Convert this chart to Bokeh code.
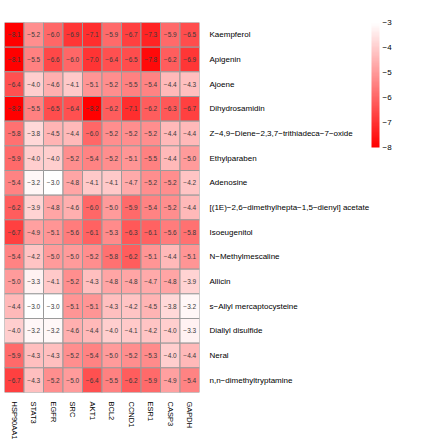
import math
from bokeh.plotting import figure
from bokeh.models import ColumnDataSource, LinearColorMapper, ColorBar, FixedTicker, CustomJSTickFormatter
from bokeh.core.properties import value
from bokeh.embed import file_html
from bokeh.resources import INLINE

targets = ["HSP90AA1", "STAT3", "EGFR", "SRC", "AKT1", "BCL2", "CCND1", "ESR1", "CASP3", "GAPDH"]
compounds = [
    "Kaempferol", "Apigenin", "Ajoene", "Dihydrosamidin",
    "Z\u22124,9\u2212Diene\u22122,3,7\u2212trithiadeca\u22127\u2212oxide",
    "Ethylparaben", "Adenosine",
    "[(1E)\u22122,6\u2212dimethylhepta\u22121,5\u2212dienyl] acetate",
    "Isoeugenitol", "N\u2212Methylmescaline", "Allicin",
    "s\u2212Allyl mercaptocysteine", "Diallyl disulfide", "Neral",
    "n,n\u2212dimethyltryptamine",
]
kaempferol = [-8.1, -5.2, -6.0, -6.9, -7.1, -5.9, -6.7, -7.3, -5.9, -6.5]
apigenin = [-8.1, -5.5, -6.6, -6.0, -7.0, -6.4, -6.5, -7.8, -6.2, -6.9]
ajoene = [-6.4, -4.0, -4.6, -4.1, -5.1, -5.2, -5.5, -5.4, -4.4, -4.3]
dihydrosamidin = [-8.2, -5.5, -6.5, -6.4, -8.2, -6.2, -7.1, -6.2, -6.3, -6.7]
diene_oxide = [-5.8, -3.8, -4.5, -4.4, -6.0, -5.2, -5.2, -5.2, -4.4, -4.4]
ethylparaben = [-5.9, -4.0, -4.0, -5.2, -5.4, -5.2, -5.1, -5.5, -4.4, -5.0]
adenosine = [-5.4, -3.2, -3.0, -4.8, -4.1, -4.1, -4.7, -5.2, -5.2, -4.2]
dienyl_acetate = [-6.2, -3.9, -4.8, -4.6, -6.0, -5.0, -5.9, -5.4, -5.2, -4.4]
isoeugenitol = [-6.7, -4.9, -5.1, -5.6, -6.1, -5.3, -6.3, -6.1, -5.6, -5.8]
methylmescaline = [-5.4, -4.2, -5.0, -5.0, -5.2, -5.8, -6.2, -5.1, -4.4, -5.1]
allicin = [-5.0, -3.3, -4.1, -5.2, -4.3, -4.8, -4.8, -4.7, -4.8, -3.9]
allyl_mercaptocysteine = [-4.4, -3.0, -3.0, -5.1, -5.1, -4.3, -4.2, -4.5, -3.8, -3.2]
diallyl_disulfide = [-4.0, -3.2, -3.2, -4.6, -4.4, -4.0, -4.1, -4.2, -4.0, -3.3]
neral = [-5.9, -4.3, -4.3, -5.2, -5.4, -5.0, -5.2, -5.3, -4.0, -4.4]
dmt = [-6.7, -4.3, -5.2, -5.0, -6.4, -5.5, -6.2, -5.9, -4.9, -5.4]
scale_ticks = [-8, -7, -6, -5, -4, -3]

rows = [kaempferol, apigenin, ajoene, dihydrosamidin, diene_oxide, ethylparaben,
        adenosine, dienyl_acetate, isoeugenitol, methylmescaline, allicin,
        allyl_mercaptocysteine, diallyl_disulfide, neral, dmt]

xs, ys, vals, labels = [], [], [], []
for name, r in zip(compounds, rows):
    for t, v in zip(targets, r):
        xs.append(t)
        ys.append(name)
        vals.append(v)
        labels.append(f"{v:.1f}".replace("-", "\u2212"))
src = ColumnDataSource(dict(x=xs, y=ys, val=vals, label=labels))

# white -> red palette, ordered low (red) to high (white)
n = 100
palette = []
for i in range(n):
    f = i / (n - 1)
    g = int(round(255 * f))
    palette.append("#%02x%02x%02x" % (255, g, g))
mapper = LinearColorMapper(palette=palette, low=-8, high=-3)

FONT = "Liberation Sans"
p = figure(x_range=targets, y_range=list(reversed(compounds)),
           frame_width=195, frame_height=370,
           output_backend="svg", toolbar_location=None,
           x_axis_location="below", y_axis_location="right",
           min_border_left=4, min_border_top=22, min_border_bottom=0, min_border_right=216)
p.rect(x="x", y="y", width=1, height=1, source=src,
       fill_color={"field": "val", "transform": mapper},
       line_color="#9a9a9a", line_width=1)
p.text(x="x", y="y", text="label", source=src, text_align="center",
       text_baseline="middle", text_font_size="6.5px", text_color="#3a3a3a",
       text_font=value(FONT))

p.grid.visible = False
p.outline_line_color = None
for ax in (p.xaxis[0], p.yaxis[0]):
    ax.axis_line_color = None
    ax.major_tick_line_color = None
    ax.minor_tick_line_color = None
    ax.major_label_text_font = FONT
    ax.major_label_text_color = "#000000"
p.yaxis.major_label_text_font_size = "8px"
p.yaxis.major_label_standoff = 4
p.xaxis.major_label_text_font_size = "7.5px"
p.xaxis.major_label_standoff = 3
p.xaxis.major_label_orientation = -math.pi / 2

cb = ColorBar(color_mapper=mapper, width=8, height=125, location=(367, 245),
              ticker=FixedTicker(ticks=scale_ticks),
              formatter=CustomJSTickFormatter(code="return tick.toString().replace('-', '\u2212')"),
              major_label_text_font=FONT, major_label_text_font_size="8px",
              major_label_text_color="#000000",
              major_tick_line_color=None, minor_tick_line_color=None,
              bar_line_color=None, border_line_color=None,
              background_fill_alpha=0, padding=0, margin=0, label_standoff=3)
p.add_layout(cb, "center")

open("out.html", "w").write(file_html(p, INLINE))
